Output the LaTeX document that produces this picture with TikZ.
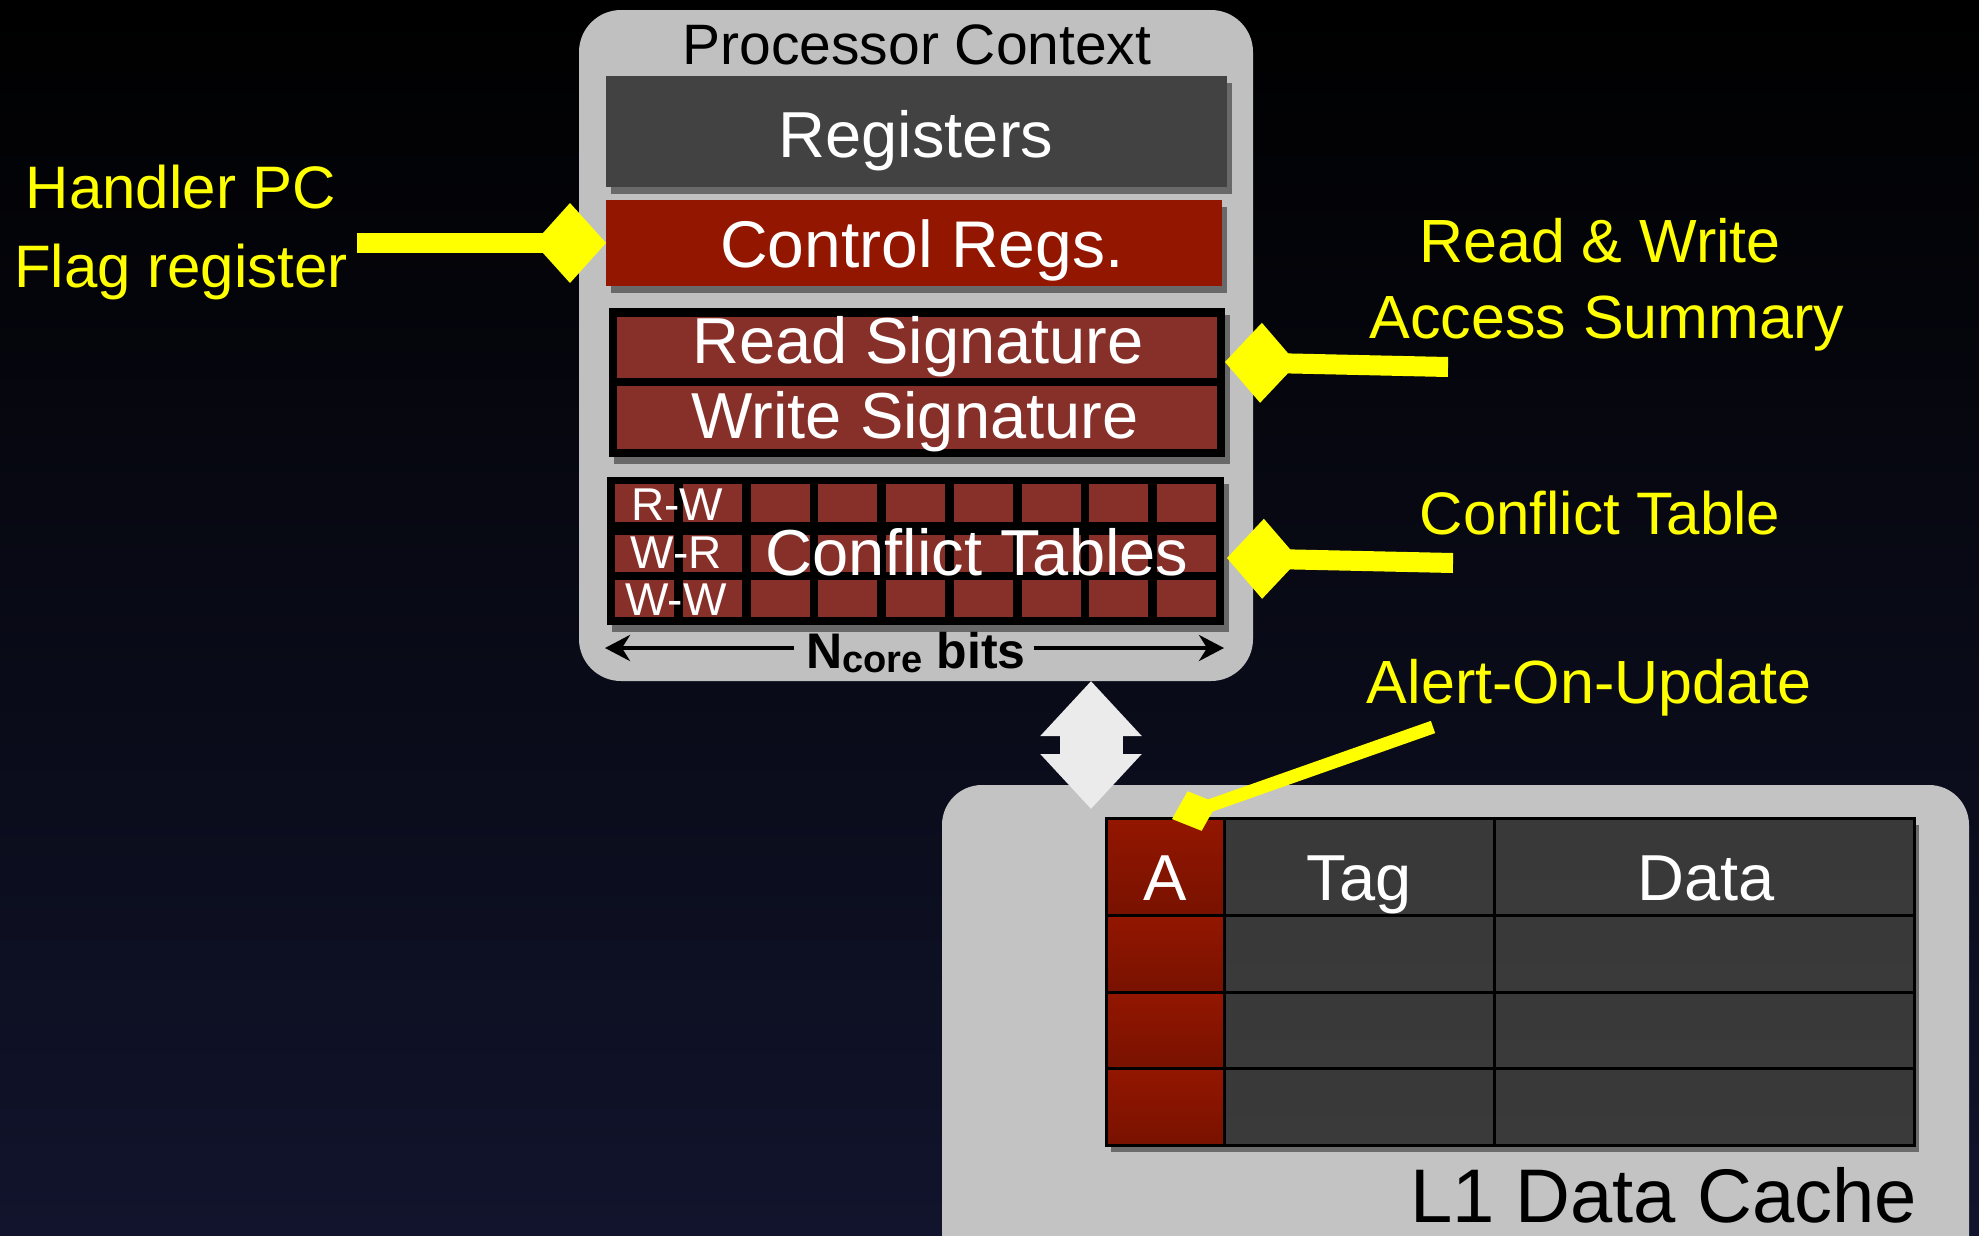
\documentclass[tikz,border=0pt]{standalone}
\usepackage{fontspec}
\setmainfont{Liberation Sans}
\usetikzlibrary{arrows.meta,shadows,calc}
\definecolor{bgbot}{HTML}{11142C}
\definecolor{bgmid}{HTML}{05060F}
\definecolor{procgray}{HTML}{C0C0C0}
\definecolor{cachegray}{HTML}{C3C3C3}
\definecolor{reggray}{HTML}{424242}
\definecolor{ctrlred}{HTML}{931600}
\definecolor{sigred}{HTML}{87302A}
\definecolor{callyellow}{HTML}{FFFF00}
\definecolor{arrowwhite}{HTML}{EBEBEB}
\newcommand{\myfs}[1]{\fontsize{#1}{#1}\selectfont}
\newcommand{\rectnode}[6]{\node[#2, minimum width={#5-#3}, minimum height={#6-#4}] (#1) at ({(#3+#5)/2},{(#4+#6)/2}) {};}
\begin{document}
\begin{tikzpicture}[x=1pt,y=-1pt,
  plain/.style={rectangle, inner sep=0pt, outer sep=0pt},
  myshadow/.style={drop shadow={shadow xshift=5pt, shadow yshift=-7pt, opacity=0.45, fill=black}},
  procbox/.style={plain, fill=procgray, rounded corners=42pt},
  cachebox/.style={plain, fill=cachegray, rounded corners=40pt},
  regbox/.style={plain, fill=reggray, myshadow},
  ctrlbox/.style={plain, fill=ctrlred, myshadow},
  frame/.style={plain, fill=black, myshadow},
  sigcell/.style={plain, fill=sigred},
  graycell/.style={plain, draw=black, line width=3pt, top color=reggray!105!white, bottom color=reggray!88!black},
  redcell/.style={plain, draw=black, line width=3pt, top color=ctrlred, bottom color=ctrlred!82!black},
  txt/.style={anchor=base, inner sep=0pt, outer sep=0pt, text=#1},
  callout/.style={draw=callyellow, line width=20pt, line cap=butt, -{Diamond[length=72pt,width=80pt]}},
  bitsarr/.style={draw=black, line width=4pt, -{Stealth[length=25pt,width=26pt,inset=8pt]}},
  dblarrow/.style={draw=arrowwhite, line width=63pt, {Triangle[length=55pt,width=98pt]}-{Triangle[length=55pt,width=98pt]}}
]
\useasboundingbox (0,0) rectangle (1979,1235);
\clip (0,0) rectangle (1979,1235);
\shade[top color=black, middle color=bgmid, bottom color=bgbot] (0,0) rectangle (1979,1235);

% ---------- Processor context ----------
\rectnode{proc}{procbox}{579}{10}{1253}{681}
\node[txt=black, font=\myfs{57}] (procT) at (917,64) {Processor Context};

\rectnode{regs}{regbox}{606}{76}{1227}{187}
\node[txt=white, font=\myfs{65}] (regsT) at (916,157) {Registers};

\rectnode{ctrl}{ctrlbox}{606}{200}{1222}{286}
\node[txt=white, font=\myfs{66}] (ctrlT) at (922,267) {Control Regs.};

\rectnode{sigframe}{frame}{609}{308}{1225}{457}
\rectnode{rsig}{sigcell}{617}{317}{1217}{378}
\rectnode{wsig}{sigcell}{617}{386}{1217}{449}
\node[txt=white, font=\myfs{65}] (rsigT) at (918,363) {Read Signature};
\node[txt=white, font=\myfs{65}] (wsigT) at (915,438) {Write Signature};

\rectnode{ctframe}{frame}{607}{477}{1224}{625}
\foreach \r/\ya/\yb in {1/484/522, 2/535/572, 3/580/617}{
  \foreach \k in {0,...,8}{
    \pgfmathsetmacro\xa{615+\k*67.75}
    \pgfmathsetmacro\xb{\xa+59}
    \rectnode{ct\r\k}{sigcell}{\xa}{\ya}{\xb}{\yb}
  }
}
\node[txt=white, font=\myfs{46}] (rwT) at (677,520) {R-W};
\node[txt=white, font=\myfs{46}] (wrT) at (676,568) {W-R};
\node[txt=white, font=\myfs{46}] (wwT) at (676,615) {W-W};
\node[txt=white, font=\myfs{65}] (ctT) at (977,575) {Conflict Tables};

\node[txt=black, font=\bfseries\myfs{50}] (bitsT) at (916,668) {N\raisebox{-4pt}{\myfs{38}core} bits};
\coordinate (bl) at (605,648);
\coordinate (br) at (1224,648);
\draw[bitsarr] ($(bitsT.west |- bl)+(-12,0)$) -- (bl);
\draw[bitsarr] ($(bitsT.east |- br)+(8,0)$) -- (br);

% ---------- L1 data cache ----------
\rectnode{cache}{cachebox}{942}{785}{1969}{1300}
\node[txt=black, anchor=base east, font=\myfs{76}] (cacheT) at (1917,1222) {L1 Data Cache};

\rectnode{ctable}{frame}{1106}{818}{1914}{1145}
\foreach \r/\ya/\yb in {1/818/915, 2/915/992, 3/992/1068, 4/1068/1145}{
  \rectnode{a\r}{redcell}{1106}{\ya}{1224}{\yb}
  \rectnode{t\r}{graycell}{1224}{\ya}{1494}{\yb}
  \rectnode{d\r}{graycell}{1494}{\ya}{1914}{\yb}
}
\node[txt=white, font=\myfs{65}] (aT) at (1165,900) {A};
\node[txt=white, font=\myfs{65}] (tagT) at (1359,900) {Tag};
\node[txt=white, font=\myfs{65}] (dataT) at (1706,900) {Data};

% ---------- connector between context and cache ----------
\coordinate (ax) at (1091,0);
\draw[dblarrow] (proc.south -| ax) -- ($(cache.north -| ax)+(0,24)$);

% ---------- yellow callouts ----------
\node[txt=callyellow, font=\myfs{60}] (hpT) at (181,208) {Handler PC};
\node[txt=callyellow, font=\myfs{60}] (flT) at (181,287) {Flag register};
\coordinate (hpEnd) at (357,243);
\draw[callout] (hpEnd) -- (ctrl.west);

\node[txt=callyellow, font=\myfs{61}] (rwsT) at (1600,262) {Read \& Write};
\node[txt=callyellow, font=\myfs{61}] (accT) at (1607,338) {Access Summary};
\coordinate (rwEnd) at (1448,367);
\coordinate (rwTip) at (sigframe.east |- 0,362);
\draw[callout] (rwEnd) -- (rwTip);

\node[txt=callyellow, font=\myfs{60}] (ctlT) at (1600,534) {Conflict Table};
\coordinate (ctEnd) at (1453,563);
\coordinate (ctTip) at (1227,558);
\draw[callout] (ctEnd) -- (ctTip);

\node[txt=callyellow, font=\myfs{61}] (aouT) at (1589,703) {Alert-On-Update};
\coordinate (aoEnd) at (1433,727);
\draw[callout, line width=13pt, -{Diamond[length=48pt,width=42pt]}] (aoEnd) -- ($(a1.north)+(7,1)$);
\end{tikzpicture}
\end{document}
